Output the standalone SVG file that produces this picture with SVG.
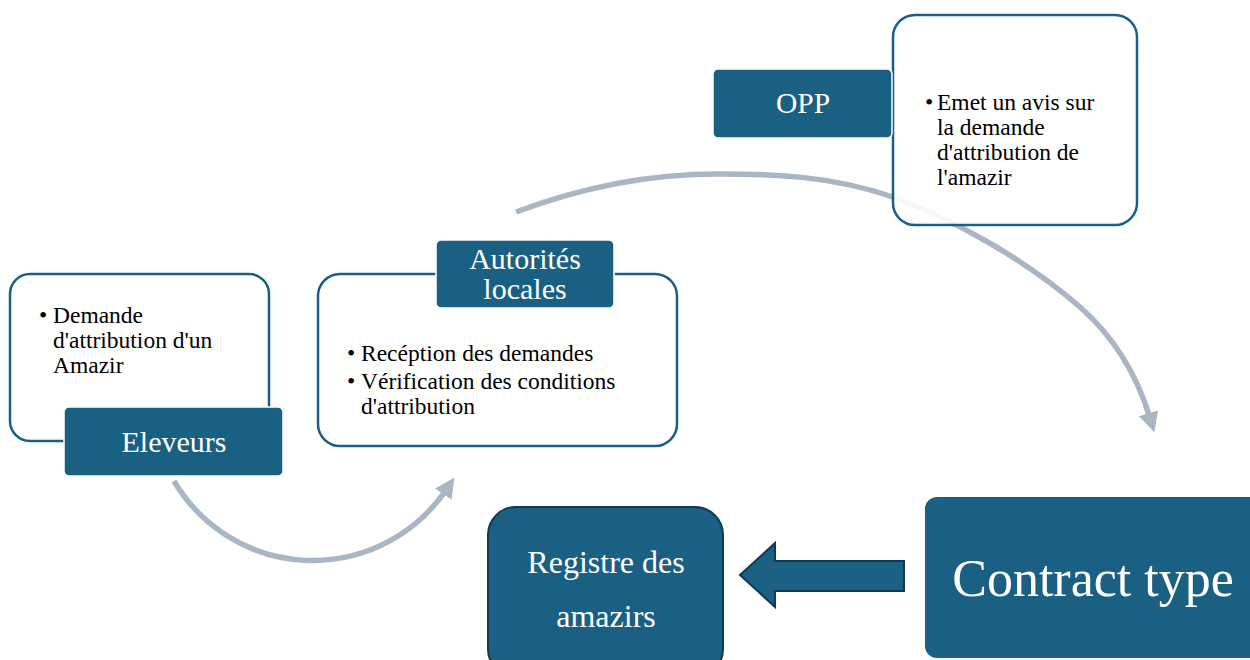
<svg xmlns="http://www.w3.org/2000/svg" width="1250" height="660" viewBox="0 0 1250 660">
<style>
.frame{fill:#ffffff;fill-opacity:0.9;stroke:#1a6082;stroke-width:2.5}
.label{fill:#1a6082;stroke:#ffffff;stroke-width:1.5}
.solid{fill:#1a6082;stroke:#0f3b52;stroke-width:2}
.lt{font-family:"Liberation Serif","Times New Roman",serif;fill:#ffffff;text-anchor:middle}
.bt{font-family:"Liberation Serif","Times New Roman",serif;fill:#000000;font-size:23.5px}
.conn{fill:none;stroke:#aab6c3;stroke-width:5.5}
</style>
<defs>
<marker id="ah" markerUnits="userSpaceOnUse" markerWidth="20" markerHeight="20" refX="4" refY="8" orient="auto" viewBox="0 0 16 16">
<path d="M0,0 L16,8 L0,16 Z" fill="#aab6c3"/>
</marker>
</defs>
<rect width="1250" height="660" fill="#ffffff"/>
<g id="connectors">
<path class="conn" d="M516,212 C580,188 648,174 717,174 C776,174 832,176 893,197 C955,220 1026,260 1080,307 C1114,337 1137,375 1150,418" marker-end="url(#ah)"/>
<path class="conn" d="M174,481 A161,161 0 0 0 446,490" marker-end="url(#ah)"/>
<path id="block-arrow" class="solid" d="M904,561 L775,561 L775,543 L740,575 L775,607 L775,591 L904,591 Z"/>
</g>
<g id="node-eleveurs">
<rect class="frame" x="10" y="274" width="259" height="167" rx="20"/>
<text class="bt"><tspan x="39" y="323">•</tspan><tspan x="53" y="323">Demande</tspan><tspan x="53" y="348">d'attribution d'un</tspan><tspan x="53" y="373">Amazir</tspan></text>
<rect class="label" x="64" y="407" width="219" height="69" rx="5"/>
<text class="lt" x="174" y="452" font-size="30">Eleveurs</text>
</g>
<g id="node-autorites">
<rect class="frame" x="318" y="274" width="359" height="172" rx="22"/>
<rect class="label" x="436" y="240" width="178" height="68" rx="5"/>
<text class="lt" font-size="30"><tspan x="525" y="269">Autorités</tspan><tspan x="525" y="299">locales</tspan></text>
<text class="bt"><tspan x="347" y="361">•</tspan><tspan x="361" y="361">Recéption des demandes</tspan><tspan x="347" y="389">•</tspan><tspan x="361" y="389">Vérification des conditions</tspan><tspan x="361" y="414">d'attribution</tspan></text>
</g>
<g id="node-opp">
<rect class="frame" x="893" y="15" width="244" height="210" rx="22"/>
<rect class="label" x="713" y="69" width="179" height="69" rx="5"/>
<text class="lt" x="803" y="113" font-size="29.5">OPP</text>
<text class="bt"><tspan x="925" y="110">•</tspan><tspan x="937" y="110">Emet un avis sur</tspan><tspan x="937" y="135">la demande</tspan><tspan x="937" y="160">d'attribution de</tspan><tspan x="937" y="185">l'amazir</tspan></text>
</g>
<g id="node-registre">
<rect class="solid" x="488" y="507" width="235" height="170" rx="28"/>
<text class="lt" font-size="32"><tspan x="606" y="573">Registre des</tspan><tspan x="606" y="627">amazirs</tspan></text>
</g>
<g id="node-contract">
<rect x="925" y="497" width="340" height="161" rx="12" fill="#1a6082"/>
<text class="lt" x="1093" y="596" font-size="52">Contract type</text>
</g>
</svg>
